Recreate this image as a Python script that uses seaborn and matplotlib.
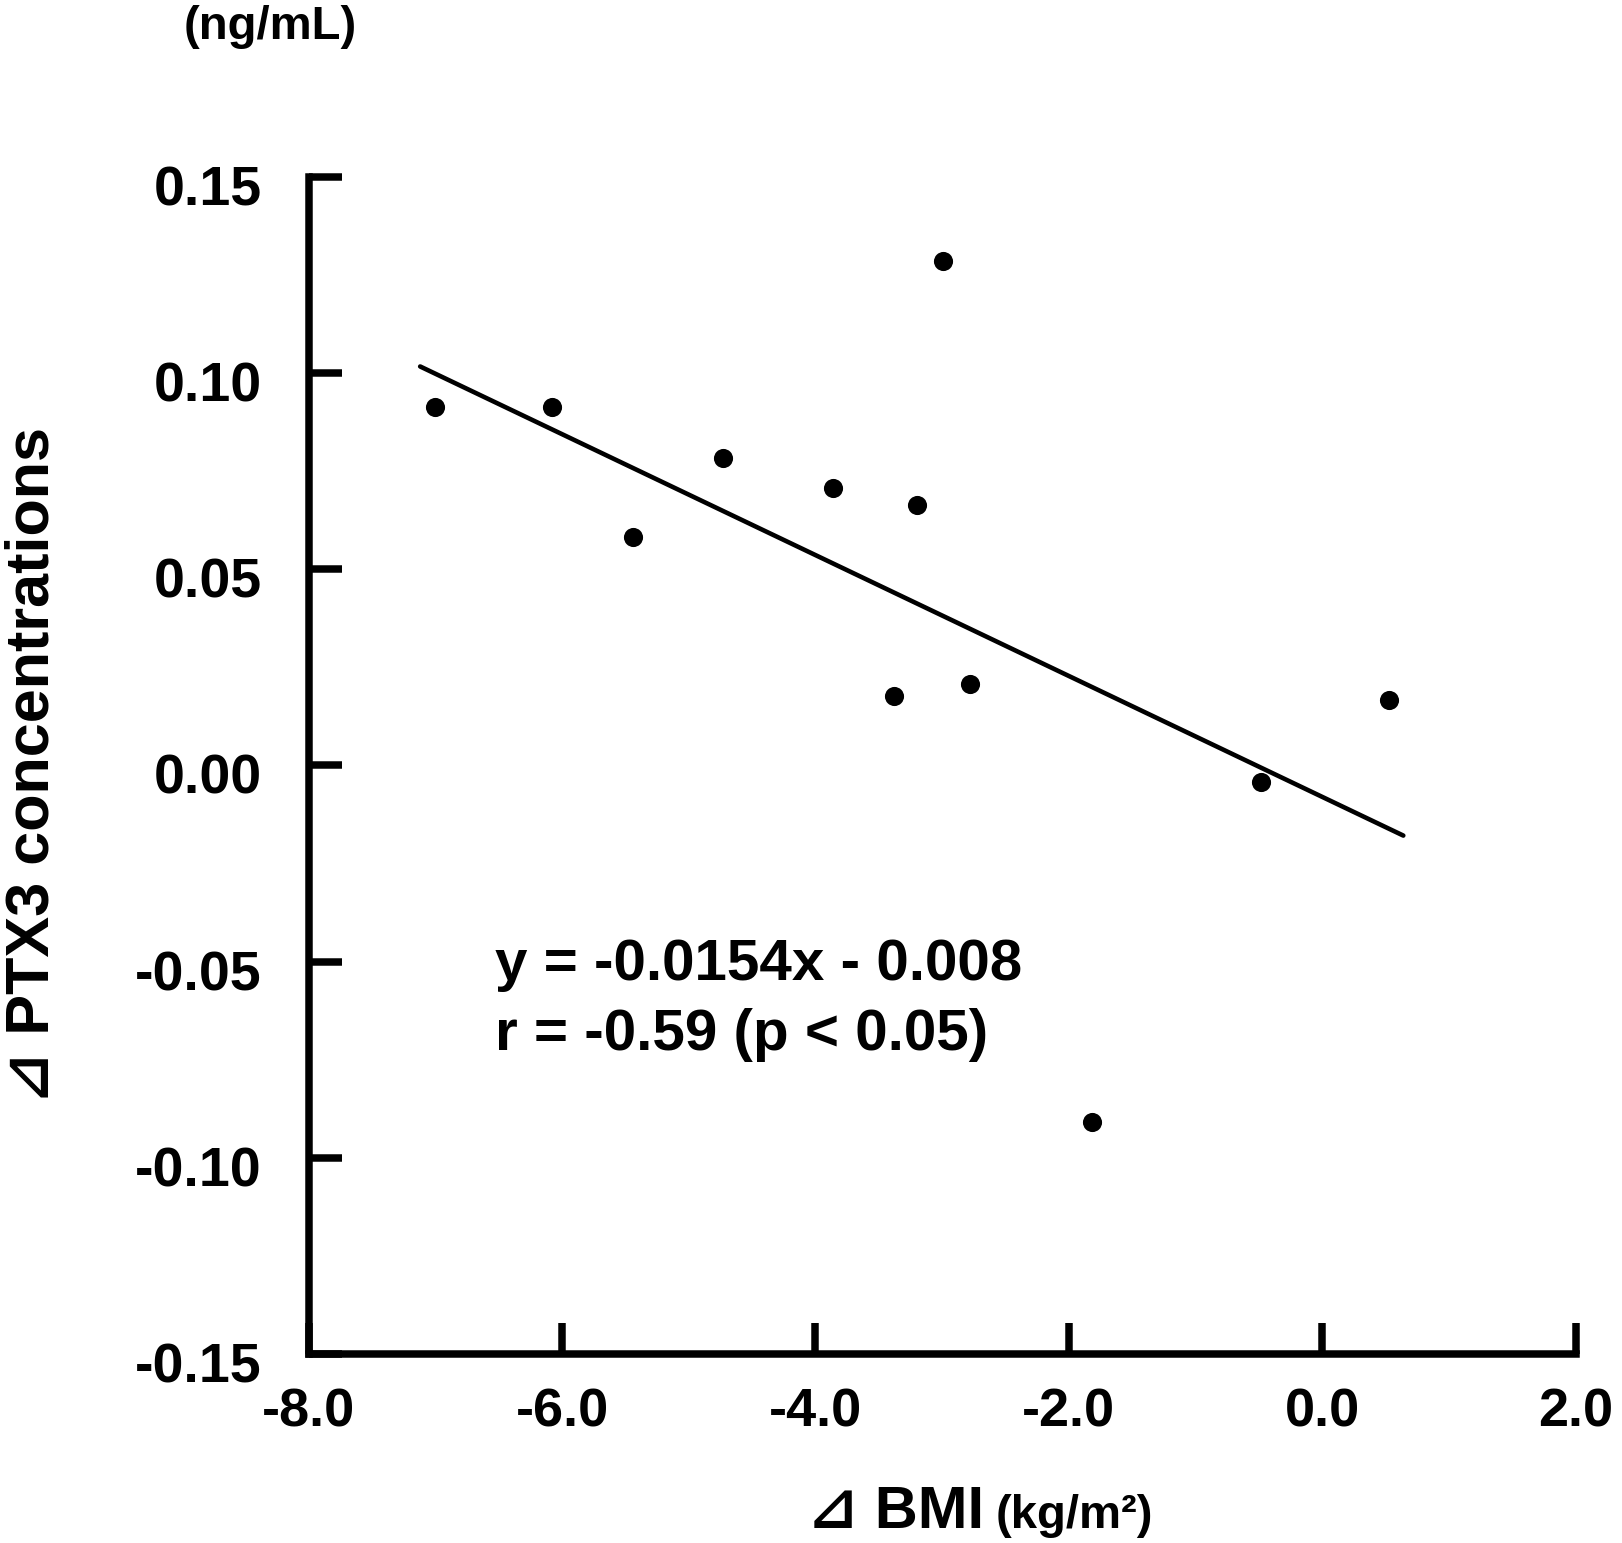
import numpy as np
import pandas as pd
import seaborn as sns
import matplotlib.pyplot as plt
import matplotlib.transforms as mtransforms

# data
delta_bmi = [-7.00, -6.08, -5.44, -4.73, -3.86, -3.20, -2.99, -3.38, -2.78, -1.82, -0.48, 0.53]
delta_ptx3 = [0.0914, 0.0914, 0.0582, 0.0783, 0.0707, 0.0664, 0.1286, 0.0176, 0.0208, -0.0907, -0.0042, 0.0166]

# regression line as printed in the figure
slope = -0.0154
intercept = -0.008
r_value = -0.59
fit_x = [-7.12, 0.64]

x_ticks = [-8.0, -6.0, -4.0, -2.0, 0.0, 2.0]
y_ticks = [-0.15, -0.10, -0.05, 0.00, 0.05, 0.10, 0.15]

sns.set_style('ticks')
fonts = ['Liberation Sans', 'DejaVu Sans']
plt.rcParams['font.family'] = fonts
plt.rcParams['font.weight'] = 'bold'
plt.rcParams['text.color'] = 'black'
plt.rcParams['axes.labelcolor'] = 'black'

df = pd.DataFrame({'bmi': delta_bmi, 'ptx3': delta_ptx3})
fit = pd.DataFrame({'x': fit_x})
fit['y'] = slope * fit['x'] + intercept

fig = plt.figure(figsize=(16.22, 15.43), dpi=100)
ax = fig.add_axes([0.1903, 0.1223, 0.7811, 0.7632])

sns.lineplot(data=fit, x='x', y='y', ax=ax, color='black', linewidth=3.3)
sns.scatterplot(data=df, x='bmi', y='ptx3', ax=ax, color='black', s=190,
                linewidth=0, zorder=3)

ax.set_xlim(-8, 2)
ax.set_ylim(-0.15, 0.15)
ax.set_xticks(x_ticks)
ax.set_xticklabels([f'{v:.1f}' for v in x_ticks])
ax.set_yticks(y_ticks)
ax.set_yticklabels([f'{v:.2f}' for v in y_ticks])

for side in ['top', 'right']:
    ax.spines[side].set_visible(False)
for side in ['left', 'bottom']:
    ax.spines[side].set_linewidth(5.4)
    ax.spines[side].set_color('black')

ax.tick_params(axis='y', direction='in', length=24, width=5.4, pad=34,
               labelsize=40, colors='black')
ax.tick_params(axis='x', direction='in', length=22, width=5.4, pad=24,
               labelsize=39, colors='black')
shift = mtransforms.ScaledTranslation(0, -6 / 72, fig.dpi_scale_trans)
for lab in ax.get_yticklabels():
    lab.set_transform(lab.get_transform() + shift)
for lab in ax.get_xticklabels() + ax.get_yticklabels():
    lab.set_fontweight('bold')

ax.set_xlabel('')
ax.set_ylabel('\u22bf PTX3 concentrations', fontsize=44, fontweight='bold',
              family=fonts, color='black')
ax.yaxis.set_label_coords(-0.195, 0.5)

# x axis label with smaller unit part
fig.text(808 / 1622, 1 - 1528 / 1543, '\u22bf BMI', fontsize=43,
         fontweight='bold', family=fonts, ha='left', va='baseline')
fig.text(996 / 1622, 1 - 1528 / 1543, '(kg/m\u00b2)', fontsize=34,
         fontweight='bold', family=fonts, ha='left', va='baseline')

fig.text(184 / 1622, 1 - 39 / 1543, '(ng/mL)', fontsize=34, fontweight='bold',
         family=fonts, ha='left', va='baseline')

ax.text(-6.53, -0.0546, f'y = {slope}x - {abs(intercept)}', fontsize=42,
        fontweight='bold', ha='left', va='baseline', color='black')
ax.text(-6.53, -0.0725, f'r = {r_value} (p < 0.05)', fontsize=42,
        fontweight='bold', ha='left', va='baseline', color='black')

fig.savefig('out.png', dpi=100, facecolor='white')
